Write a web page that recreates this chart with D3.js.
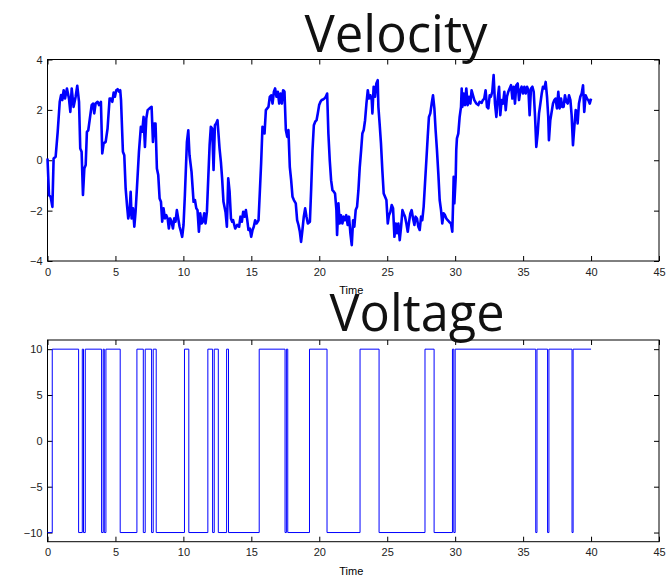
<!DOCTYPE html>
<html>
<head>
<meta charset="utf-8">
<script src="https://cdn.jsdelivr.net/npm/d3@7"></script>
<style>
  body { margin: 0; background: #fff; }
  svg { display: block; }
  .tick text { font-family: "Liberation Sans", Arial, sans-serif; font-size: 11px; fill: #222; }
  .tick line { stroke: #000; }
</style>
</head>
<body>
<div id="chart"></div>
<script>

// velocity samples (time in s, value)
var velocityTime = [
  0.00,0.11,0.23,0.36,0.45,0.60,0.75,0.90,1.00,1.09,
  1.19,1.29,1.43,1.58,1.68,1.78,1.92,2.07,2.19,2.32,
  2.41,2.51,2.61,2.71,2.81,2.90,3.00,3.10,3.25,3.35,
  3.44,3.54,3.69,3.79,3.93,4.03,4.13,4.28,4.42,4.57,
  4.67,4.77,4.87,4.96,5.06,5.16,5.26,5.35,5.41,5.55,
  5.65,5.75,5.85,5.94,6.04,6.12,6.19,6.29,6.39,6.48,
  6.58,6.73,6.87,6.97,7.07,7.17,7.27,7.37,7.51,7.66,
  7.76,7.85,7.95,8.05,8.15,8.25,8.35,8.44,8.54,8.64,
  8.74,8.84,8.93,9.03,9.13,9.23,9.33,9.42,9.52,9.62,
  9.72,9.82,9.91,10.01,10.11,10.26,10.36,10.45,10.60,10.75,
  10.85,10.95,11.04,11.14,11.24,11.34,11.43,11.53,11.63,11.73,
  11.83,11.93,12.02,12.12,12.22,12.32,12.41,12.51,12.66,12.76,
  12.85,12.95,13.10,13.20,13.30,13.40,13.50,13.59,13.66,13.81,
  13.96,14.10,14.20,14.30,14.40,14.50,14.60,14.70,14.79,14.89,
  14.99,15.09,15.18,15.28,15.38,15.53,15.62,15.72,15.82,15.92,
  15.97,16.07,16.17,16.26,16.36,16.46,16.56,16.66,16.75,16.85,
  16.95,17.05,17.15,17.25,17.34,17.44,17.54,17.64,17.73,17.83,
  17.93,18.03,18.13,18.27,18.37,18.47,18.57,18.66,18.76,18.86,
  18.96,19.06,19.16,19.31,19.40,19.50,19.60,19.70,19.80,19.89,
  19.99,20.09,20.18,20.28,20.38,20.48,20.58,20.67,20.77,20.87,
  20.97,21.07,21.16,21.26,21.31,21.41,21.50,21.60,21.70,21.80,
  21.89,21.99,22.09,22.19,22.29,22.39,22.49,22.58,22.68,22.78,
  22.88,22.98,23.08,23.17,23.27,23.37,23.47,23.57,23.66,23.76,
  23.86,23.91,24.00,24.10,24.20,24.30,24.35,24.44,24.54,24.64,
  24.74,24.84,24.94,25.04,25.13,25.23,25.33,25.43,25.53,25.63,
  25.72,25.82,25.92,26.02,26.12,26.21,26.31,26.41,26.51,26.61,
  26.70,26.80,26.90,27.00,27.09,27.19,27.29,27.39,27.49,27.58,
  27.68,27.78,27.88,27.98,28.07,28.17,28.27,28.37,28.47,28.56,
  28.66,28.76,28.86,28.96,29.05,29.15,29.25,29.35,29.45,29.55,
  29.69,29.79,29.84,29.89,29.94,30.04,30.08,30.13,30.23,30.33,
  30.43,30.48,30.53,30.62,30.72,30.82,30.92,31.02,31.12,31.21,
  31.31,31.41,31.56,31.70,31.80,31.95,32.04,32.14,32.24,32.34,
  32.44,32.54,32.63,32.73,32.83,32.93,33.03,33.13,33.23,33.32,
  33.42,33.52,33.62,33.72,33.81,33.91,34.01,34.11,34.21,34.31,
  34.40,34.50,34.60,34.70,34.80,34.89,34.99,35.09,35.19,35.29,
  35.39,35.48,35.58,35.68,35.78,35.88,35.97,36.07,36.17,36.27,
  36.37,36.46,36.56,36.66,36.76,36.85,36.90,37.00,37.10,37.20,
  37.30,37.39,37.49,37.59,37.69,37.79,37.88,37.98,38.08,38.18,
  38.28,38.38,38.48,38.57,38.67,38.77,38.87,38.97,39.01,39.11,
  39.21,39.31,39.41,39.50,39.60,39.70,39.80,39.90,40.00
];
var velocityValue = [
  0.07,-1.38,-1.45,-1.85,0.07,0.14,1.13,2.32,2.59,2.39,
  2.78,2.45,2.85,2.45,1.92,2.85,2.12,2.52,2.96,2.32,
  0.47,0.34,-1.38,-0.33,-0.19,1.13,1.19,1.59,2.19,2.25,
  1.86,2.25,2.32,2.19,2.32,0.27,0.67,0.73,1.26,2.45,
  2.45,2.32,2.69,2.52,2.78,2.82,2.72,2.78,2.39,0.34,
  0.20,-1.12,-1.78,-2.31,-2.05,-1.25,-2.31,-1.91,-2.64,-2.05,
  -1.12,0.34,1.33,1.13,1.72,0.53,1.66,1.99,2.06,2.12,
  0.73,1.46,1.46,-0.33,-0.59,-1.52,-1.65,-2.44,-1.91,-2.31,
  -2.18,-2.31,-2.71,-2.31,-2.44,-2.71,-2.31,-2.44,-1.98,-2.31,
  -2.64,-2.84,-3.04,-2.57,-1.38,0.73,1.19,0.20,-0.46,-1.65,
  -1.58,-1.91,-1.98,-2.84,-2.11,-2.51,-2.44,-2.11,-2.51,-2.05,
  -0.72,0.60,1.33,1.26,-0.39,1.39,1.46,1.59,0.47,-0.06,
  -0.72,-1.65,-2.05,-2.64,-0.72,-1.25,-2.31,-2.44,-2.38,-2.71,
  -2.57,-2.64,-2.24,-2.44,-2.05,-2.24,-1.98,-2.38,-2.77,-2.71,
  -3.04,-2.77,-2.64,-2.38,-2.51,-2.38,-1.32,-0.13,1.33,1.26,
  1.06,1.99,2.06,2.12,2.52,2.58,2.25,2.72,2.85,2.52,
  2.72,2.25,2.65,2.25,2.78,2.72,1.20,0.93,1.20,-0.26,
  -0.79,-1.45,-1.58,-1.71,-2.38,-2.57,-2.84,-3.24,-2.77,-2.24,
  -1.91,-2.24,-2.51,-2.44,-1.19,0.40,1.39,1.53,1.59,1.86,
  2.19,2.32,2.39,2.41,2.45,2.52,2.65,1.06,0.00,-0.79,
  -1.19,-1.25,-1.32,-1.98,-2.97,-1.71,-2.51,-2.18,-2.51,-2.24,
  -2.38,-2.18,-2.57,-2.24,-2.90,-3.37,-2.38,-2.64,-1.98,-1.85,
  -1.19,-0.26,0.40,1.06,1.20,1.59,2.25,2.78,2.45,2.58,
  2.39,1.86,2.92,2.52,3.05,3.18,2.12,1.46,0.67,-0.39,
  -1.32,-1.45,-1.58,-2.51,-2.18,-2.05,-1.78,-1.91,-3.04,-2.51,
  -2.90,-2.51,-3.17,-2.64,-1.98,-2.11,-2.24,-2.51,-2.84,-2.44,
  -2.11,-1.98,-2.31,-2.57,-2.24,-2.31,-2.64,-2.77,-2.24,-2.38,
  -1.85,-0.92,0.00,0.93,1.72,1.86,2.25,2.58,2.06,1.20,
  0.40,-0.52,-1.58,-1.98,-2.51,-2.11,-2.18,-2.31,-2.38,-2.44,
  -2.51,-2.84,-1.85,-0.66,-1.71,-0.66,0.40,0.87,1.06,1.72,
  2.12,2.85,2.12,2.65,2.19,2.85,2.19,2.52,2.25,2.78,
  2.58,2.39,2.25,2.19,2.32,2.28,2.39,2.45,2.78,2.12,
  2.06,2.58,2.52,2.72,3.38,2.25,1.72,2.45,2.92,1.79,
  2.39,2.25,2.72,1.99,2.52,2.72,2.85,2.98,2.45,2.92,
  2.25,2.98,3.05,2.39,2.78,2.92,2.65,2.92,2.65,2.92,
  2.78,1.79,2.85,2.92,2.72,1.72,0.53,1.06,1.86,2.25,
  2.65,2.92,2.85,3.11,2.52,1.72,0.80,1.59,1.92,2.25,
  2.39,2.45,2.06,2.72,2.06,2.45,2.12,2.12,2.58,2.32,
  2.25,2.58,2.39,1.79,0.60,1.33,1.99,1.92,1.46,2.25,
  2.52,2.65,2.98,1.92,2.58,2.45,2.39,2.25,2.45
];

// voltage switching instants and the level held after each
var voltageTime = [0, 0.35, 2.29, 2.56, 2.65, 2.78, 3.98, 4.10, 4.18, 4.30,
  5.35, 6.58, 7.05, 7.19, 7.66, 7.78, 8.00, 10.08, 10.40, 11.80,
  12.15, 12.27, 12.57, 13.18, 13.32, 15.58, 17.48, 17.58, 17.68, 19.28,
  20.57, 23.00, 24.40, 27.78, 28.45, 29.80, 29.90, 30.00, 35.93, 36.02,
  36.80, 36.90, 38.60, 38.68, 40.00];
var voltageValue = [-10, 10, -10, 10, -10, 10, -10, 10, -10, 10,
  -10, 10, -10, 10, -10, 10, -10, 10, -10, 10,
  -10, 10, -10, 10, -10, 10, -10, 10, -10, 10,
  -10, 10, -10, 10, -10, 10, -10, 10, -10, 10,
  -10, 10, -10, 10, 10];

var timeTicks = [0, 5, 10, 15, 20, 25, 30, 35, 40, 45];
var velocityTicks = [-4, -2, 0, 2, 4];
var voltageTicks = [-10, -5, 0, 5, 10];

var width = 668, height = 578;
var left = 47.5, right = 659;

var svg = d3.select("#chart").append("svg")
  .attr("width", width)
  .attr("height", height);

var x = d3.scaleLinear().domain([0, 45]).range([left, right]);

function panel(top, bottom, yDomain, yTicks, title, titleBase, titleMid, timeBase) {
  var y = d3.scaleLinear().domain(yDomain).range([bottom, top]);
  var g = svg.append("g");

  g.append("g")
    .attr("transform", "translate(0," + bottom + ")")
    .call(d3.axisBottom(x).tickValues(timeTicks).tickSize(-5).tickPadding(7).tickFormat(d3.format("d")))
    .call(function(a) { a.select(".domain").remove(); });
  g.append("g")
    .attr("transform", "translate(0," + top + ")")
    .call(d3.axisTop(x).tickValues(timeTicks).tickSize(-5).tickFormat(""))
    .call(function(a) { a.select(".domain").remove(); });
  g.append("g")
    .attr("transform", "translate(" + left + ",0)")
    .call(d3.axisLeft(y).tickValues(yTicks).tickSize(-5).tickPadding(5))
    .call(function(a) { a.select(".domain").remove(); });
  g.append("g")
    .attr("transform", "translate(" + right + ",0)")
    .call(d3.axisRight(y).tickValues(yTicks).tickSize(-5).tickFormat(""))
    .call(function(a) { a.select(".domain").remove(); });

  g.append("rect")
    .attr("x", left).attr("y", top)
    .attr("width", right - left).attr("height", bottom - top)
    .attr("fill", "none").attr("stroke", "#000").attr("stroke-width", 1);

  g.append("text")
    .attr("x", (left + right) / 2 - 2).attr("y", timeBase)
    .attr("text-anchor", "middle")
    .style("font-family", "Liberation Sans, Arial, sans-serif")
    .style("font-size", "11px")
    .text("Time");

  var t = g.append("text")
    .attr("x", titleMid).attr("y", titleBase)
    .attr("text-anchor", "middle")
    .style("font-family", "Open Sans, sans-serif")
    .style("font-size", "50px")
    .style("fill", "#111")
    .text(title);
  return { g: g, y: y, title: t };
}

var p1 = panel(59.5, 261, [-4, 4], velocityTicks, "Velocity", 52, 396, 294);
var p2 = panel(340, 541.7, [-11, 11], voltageTicks, "Voltage", 331, 417, 575);

// fit title widths to the reference
[[p1.title, 183], [p2.title, 175]].forEach(function(d) {
  var w = d[0].node().getComputedTextLength();
  d[0].style("font-size", (50 * d[1] / w) + "px");
});

var vel = d3.range(velocityTime.length).map(function(i) { return [velocityTime[i], velocityValue[i]]; });
var volt = d3.range(voltageTime.length).map(function(i) { return [voltageTime[i], voltageValue[i]]; });

p1.g.append("path")
  .datum(vel)
  .attr("fill", "none")
  .attr("stroke", "#0000ff")
  .attr("stroke-width", 2.6)
  .attr("stroke-linejoin", "round")
  .attr("d", d3.line().x(function(d) { return x(d[0]); }).y(function(d) { return p1.y(d[1]); }));

p2.g.append("path")
  .datum(volt)
  .attr("fill", "none")
  .attr("stroke", "#0000ff")
  .attr("stroke-width", 1)
  .attr("d", d3.line().curve(d3.curveStepAfter).x(function(d) { return x(d[0]); }).y(function(d) { return p2.y(d[1]); }));

</script>
</body>
</html>
